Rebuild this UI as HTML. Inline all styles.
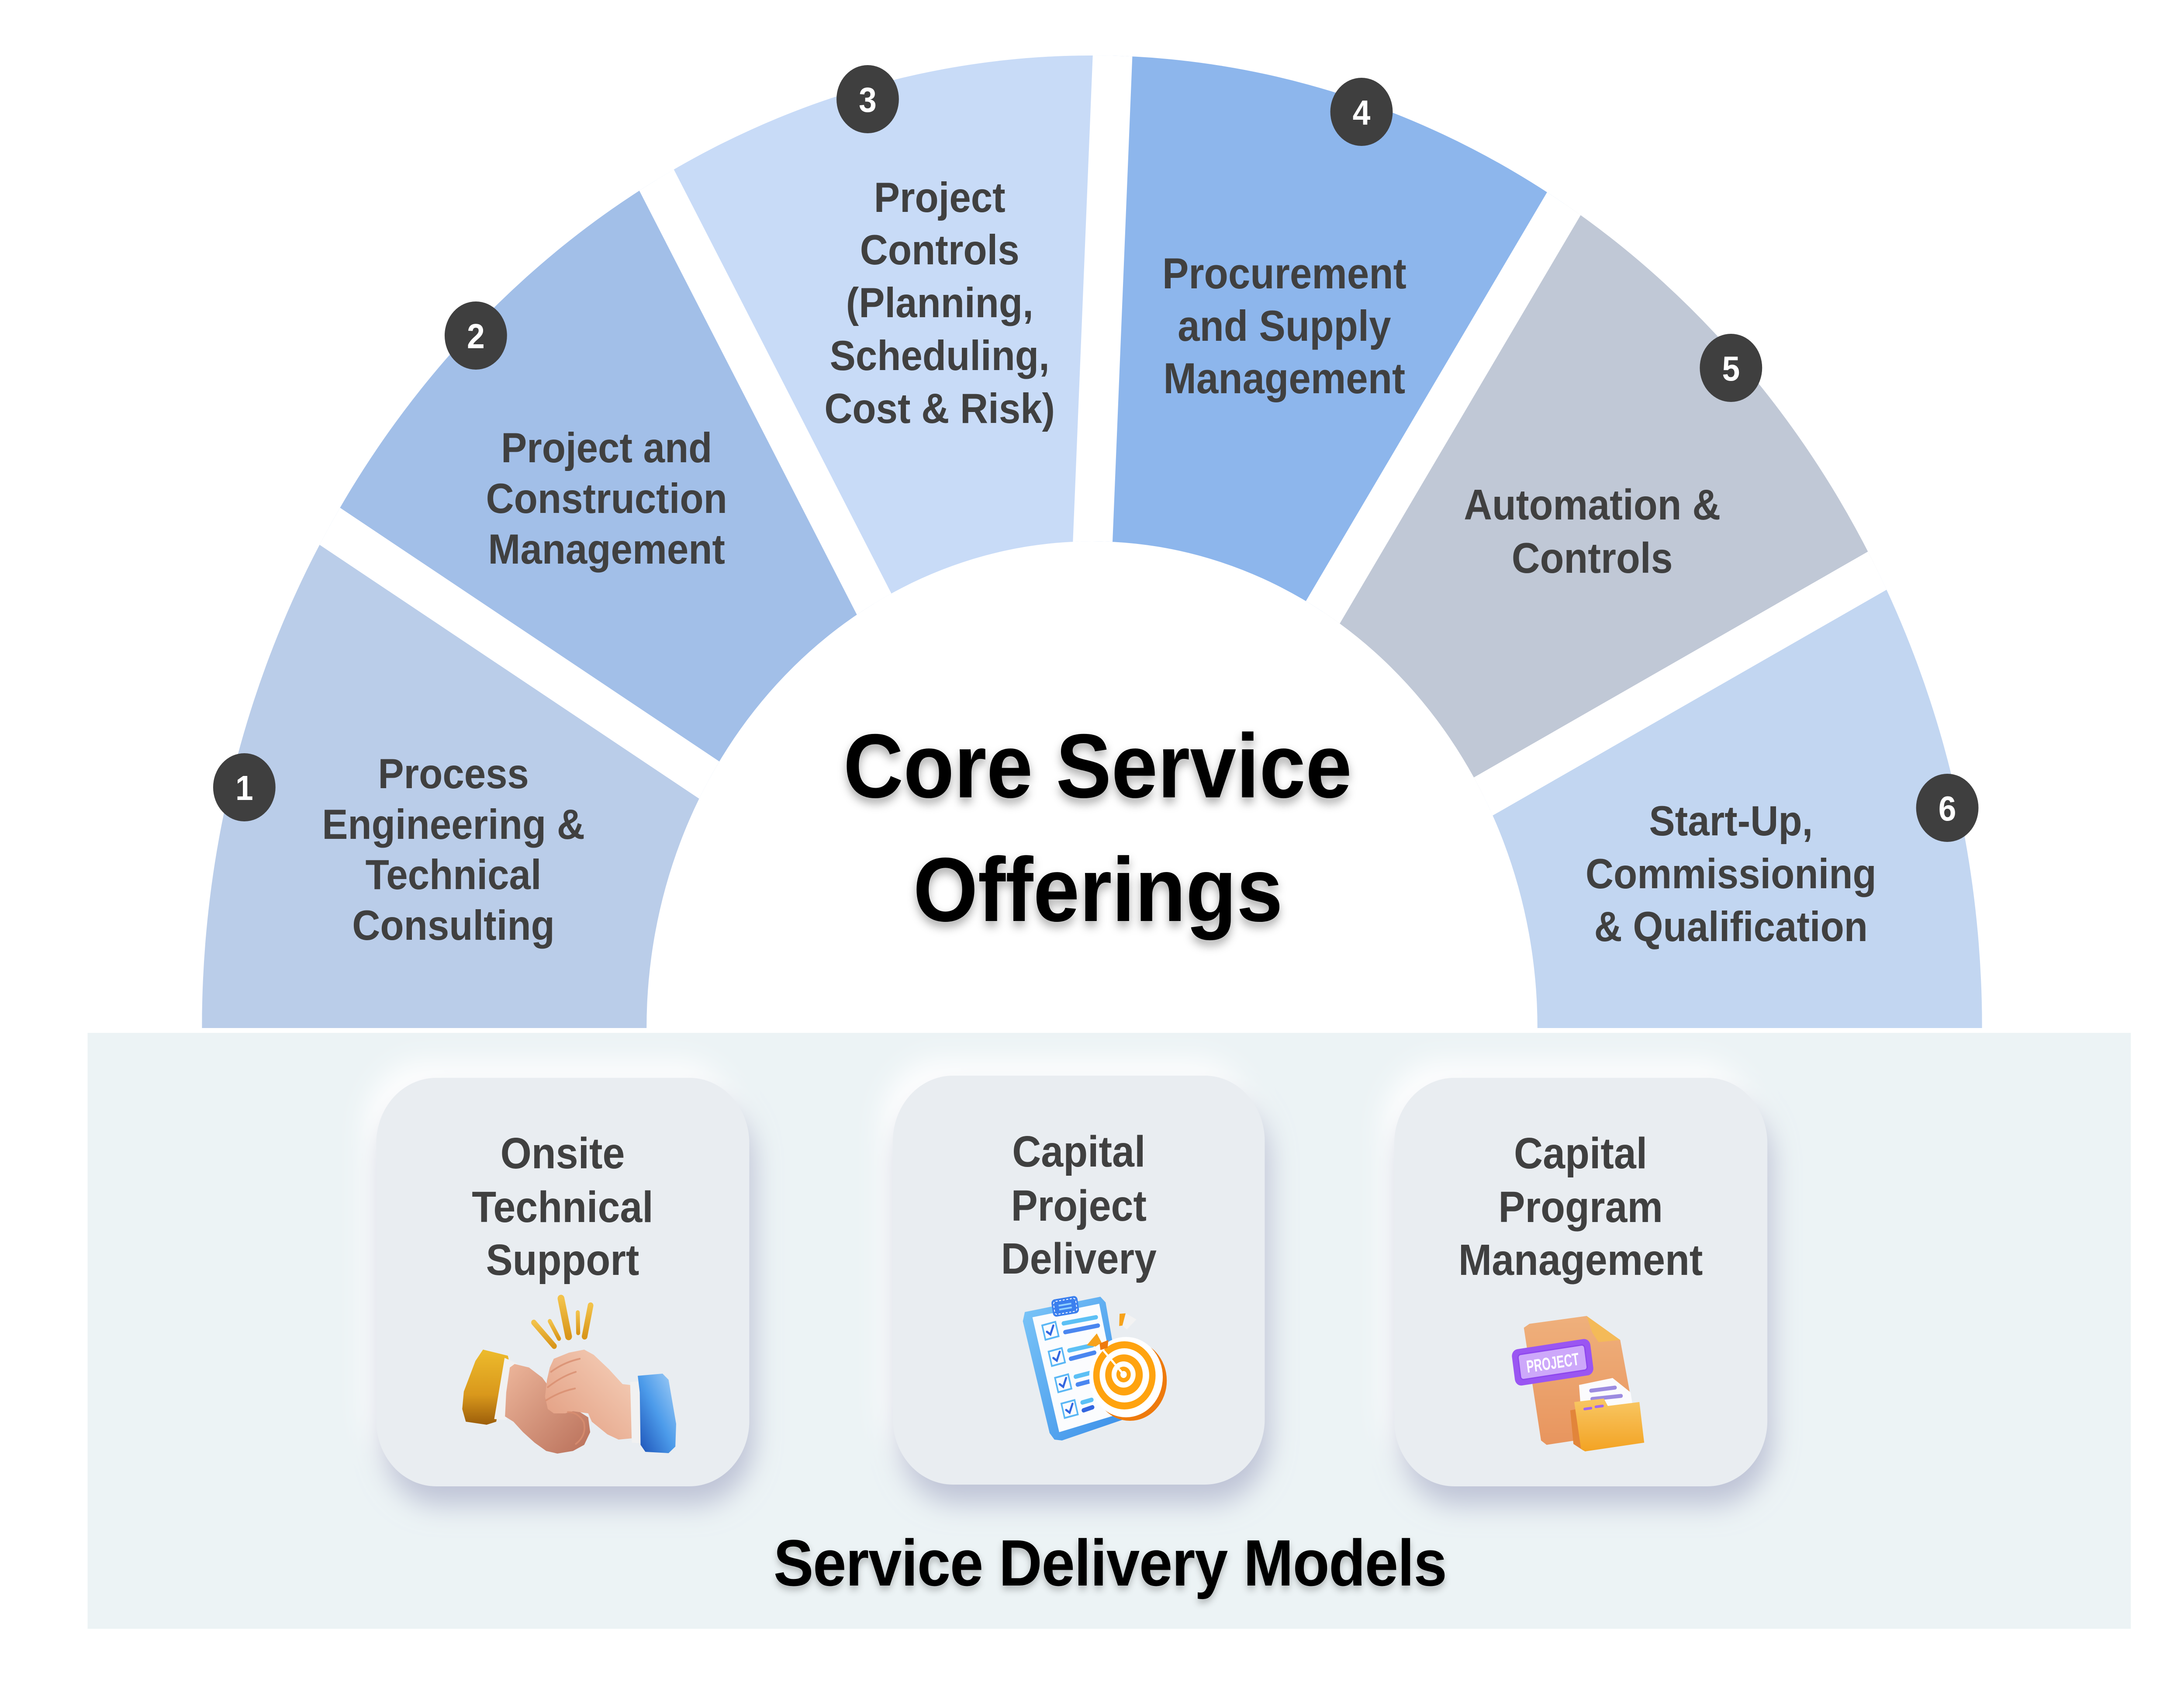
<!DOCTYPE html>
<html>
<head>
<meta charset="utf-8">
<style>
html,body{margin:0;padding:0;background:#fff;overflow:hidden;width:100%;height:100%;}
svg{display:block;width:100vw;height:100vh;}
text{font-family:"Liberation Sans",Arial,sans-serif;font-weight:bold;}
</style>
</head>
<body>
<svg xmlns="http://www.w3.org/2000/svg" viewBox="0 0 5462 3875" preserveAspectRatio="none">
<defs>
  <clipPath id="ring">
    <path d="M505,2353 A2226,2226 0 0 1 4957,2353 L3845,2353 A1114,1114 0 0 0 1617,2353 Z"/>
  </clipPath>
  <filter id="tshadow" x="-10%" y="-30%" width="120%" height="170%">
    <feGaussianBlur in="SourceAlpha" stdDeviation="11" result="b"/>
    <feOffset in="b" dx="0" dy="12" result="o"/>
    <feFlood flood-color="#000" flood-opacity="0.33"/>
    <feComposite in2="o" operator="in" result="s"/>
    <feMerge><feMergeNode in="s"/><feMergeNode in="SourceGraphic"/></feMerge>
  </filter>
  <filter id="tshadow2" x="-10%" y="-30%" width="120%" height="170%">
    <feGaussianBlur in="SourceAlpha" stdDeviation="8" result="b"/>
    <feOffset in="b" dx="0" dy="9" result="o"/>
    <feFlood flood-color="#000" flood-opacity="0.25"/>
    <feComposite in2="o" operator="in" result="s"/>
    <feMerge><feMergeNode in="s"/><feMergeNode in="SourceGraphic"/></feMerge>
  </filter>
  <filter id="neu" x="-25%" y="-25%" width="150%" height="150%">
    <feGaussianBlur in="SourceAlpha" stdDeviation="32" result="b"/>
    <feOffset in="b" dx="12" dy="42" result="o1"/>
    <feFlood flood-color="#b8bdd2" flood-opacity="0.9"/>
    <feComposite in2="o1" operator="in" result="s1"/>
    <feOffset in="b" dx="-28" dy="-34" result="o2"/>
    <feFlood flood-color="#ffffff" flood-opacity="1"/>
    <feComposite in2="o2" operator="in" result="s2"/>
    <feMerge><feMergeNode in="s2"/><feMergeNode in="s1"/><feMergeNode in="SourceGraphic"/></feMerge>
  </filter>
  <linearGradient id="lcuff" x1="0" y1="0" x2="0" y2="1">
    <stop offset="0" stop-color="#EDBB2C"/><stop offset="0.6" stop-color="#D9981C"/><stop offset="1" stop-color="#9C5E0A"/>
  </linearGradient>
  <linearGradient id="lhand" x1="0" y1="0" x2="1" y2="1">
    <stop offset="0" stop-color="#EDB69B"/><stop offset="1" stop-color="#B9705A"/>
  </linearGradient>
  <linearGradient id="rhand" x1="1" y1="0" x2="0" y2="1">
    <stop offset="0" stop-color="#F6D2BC"/><stop offset="1" stop-color="#E19A7D"/>
  </linearGradient>
  <linearGradient id="rcuff" x1="1" y1="0" x2="0" y2="1">
    <stop offset="0" stop-color="#A6D0F7"/><stop offset="0.5" stop-color="#4C9BEA"/><stop offset="1" stop-color="#1B4FB5"/>
  </linearGradient>
  <linearGradient id="spark" x1="0" y1="0" x2="0" y2="1">
    <stop offset="0" stop-color="#F2C24A"/><stop offset="1" stop-color="#D9961A"/>
  </linearGradient>
  <linearGradient id="board" x1="0" y1="0" x2="1" y2="1">
    <stop offset="0" stop-color="#7CC6F8"/><stop offset="1" stop-color="#3A8EE8"/>
  </linearGradient>
  <linearGradient id="doc" x1="0" y1="0" x2="0" y2="1">
    <stop offset="0" stop-color="#EFB07C"/><stop offset="1" stop-color="#E8955E"/>
  </linearGradient>
  <linearGradient id="fold" x1="0" y1="0" x2="0" y2="1">
    <stop offset="0" stop-color="#F8C765"/><stop offset="1" stop-color="#F3A323"/>
  </linearGradient>
</defs>

<rect x="0" y="0" width="5462" height="3875" fill="#ffffff"/>

<!-- Half ring segments -->
<g clip-path="url(#ring)">
  <polygon fill="#BACDE9" points="150,1021 525,1021 2018,1935 1900,2420 150,2420"/>
  <polygon fill="#A2BFE8" points="525,1021 1471,107 2327,1634 2018,1935"/>
  <polygon fill="#C8DBF7" points="1471,107 2798,-222 2720,1527 2327,1634"/>
  <polygon fill="#8DB6EC" points="2798,-222 4100,173 3152,1644 2720,1527"/>
  <polygon fill="#C0C8D6" points="4100,173 5004,1144 3454,1957 3152,1644"/>
  <polygon fill="#C2D6F1" points="5004,1144 5350,1144 5350,2420 3560,2420 3454,1957"/>
  <g stroke="#ffffff" stroke-width="99">
    <line x1="525" y1="1021" x2="2018" y2="1935"/>
    <line x1="1471" y1="107" x2="2327" y2="1634"/>
    <line x1="2798" y1="-222" x2="2720" y2="1527"/>
    <line x1="4100" y1="173" x2="3152" y2="1644"/>
    <line x1="5004" y1="1144" x2="3454" y2="1957"/>
  </g>
</g>

<!-- Segment labels -->
<g fill="#404040" font-size="97" text-anchor="middle">
  <text x="1134" y="1804">Process</text>
  <text x="1134" y="1920">Engineering &amp;</text>
  <text x="1134" y="2035">Technical</text>
  <text x="1134" y="2151">Consulting</text>

  <text x="1517" y="1058">Project and</text>
  <text x="1517" y="1174">Construction</text>
  <text x="1517" y="1290">Management</text>

  <text x="2350" y="485">Project</text>
  <text x="2350" y="605">Controls</text>
  <text x="2350" y="726">(Planning,</text>
  <text x="2350" y="847">Scheduling,</text>
  <text x="2350" y="968">Cost &amp; Risk)</text>

  <text x="3212" y="660" font-size="99">Procurement</text>
  <text x="3212" y="780" font-size="99">and Supply</text>
  <text x="3212" y="900" font-size="99">Management</text>

  <text x="3982" y="1189" font-size="98">Automation &amp;</text>
  <text x="3982" y="1311" font-size="98">Controls</text>

  <text x="4329" y="1912">Start-Up,</text>
  <text x="4329" y="2033">Commissioning</text>
  <text x="4329" y="2154">&amp; Qualification</text>
</g>

<!-- Badges -->
<g fill="#3F3F3F">
  <circle cx="611" cy="1802" r="78"/>
  <circle cx="1190" cy="768" r="78"/>
  <circle cx="2170" cy="227" r="78"/>
  <circle cx="3405" cy="256" r="78"/>
  <circle cx="4329" cy="842" r="78"/>
  <circle cx="4870" cy="1849" r="78"/>
</g>
<g fill="#ffffff" font-size="80" text-anchor="middle">
  <text x="611" y="1831">1</text>
  <text x="1190" y="797">2</text>
  <text x="2170" y="256">3</text>
  <text x="3405" y="285">4</text>
  <text x="4329" y="871">5</text>
  <text x="4870" y="1878">6</text>
</g>

<!-- Center title -->
<g fill="#000000" font-size="208" text-anchor="middle" filter="url(#tshadow)">
  <text x="2745" y="1825">Core Service</text>
  <text x="2746" y="2108">Offerings</text>
</g>

<!-- Bottom panel -->
<rect x="219" y="2364" width="5110" height="1364" fill="#ECF3F5"/>

<!-- Cards -->
<g filter="url(#neu)" fill="#E9EDF1">
  <rect x="941" y="2467" width="933" height="935" rx="150" ry="150"/>
  <rect x="2233" y="2462" width="930" height="936" rx="150" ry="150"/>
  <rect x="3487" y="2467" width="933" height="935" rx="150" ry="150"/>
</g>

<g fill="#404040" font-size="100" text-anchor="middle">
  <text x="1407" y="2674">Onsite</text>
  <text x="1407" y="2797">Technical</text>
  <text x="1407" y="2918">Support</text>

  <text x="2698" y="2670">Capital</text>
  <text x="2698" y="2794">Project</text>
  <text x="2698" y="2915">Delivery</text>

  <text x="3953" y="2674">Capital</text>
  <text x="3953" y="2797">Program</text>
  <text x="3953" y="2918">Management</text>
</g>

<!-- Icon 1: fist bump -->
<g>
  <g stroke="url(#spark)" stroke-linecap="round">
    <line x1="1335" y1="3027" x2="1386" y2="3081" stroke-width="13"/>
    <line x1="1375" y1="3024" x2="1398" y2="3064" stroke-width="10"/>
    <line x1="1403" y1="2972" x2="1422" y2="3059" stroke-width="17"/>
    <line x1="1445" y1="3004" x2="1446" y2="3051" stroke-width="10"/>
    <line x1="1477" y1="2988" x2="1462" y2="3059" stroke-width="14"/>
  </g>
  <polygon fill="url(#lcuff)" points="1208,3089 1270,3103 1272,3110 1241,3254 1217,3261 1165,3254 1156,3225 1160,3185 1189,3115"/>
  <polygon fill="#F1F1F1" points="1262,3108 1292,3120 1267,3250 1236,3248"/>
  <polygon fill="url(#lhand)" points="1287,3122 1323,3130 1356,3153 1368,3168 1366,3206 1385,3235 1418,3230 1447,3230 1471,3244 1476,3278 1461,3307 1433,3321 1394,3327 1366,3321 1337,3302 1308,3278 1284,3254 1263,3242 1266,3187 1275,3130"/>
  <polygon fill="url(#rhand)" points="1385,3110 1423,3096 1461,3089 1485,3101 1523,3134 1557,3168 1576,3170 1581,3292 1547,3295 1519,3283 1480,3254 1471,3235 1433,3230 1413,3235 1385,3235 1370,3225 1363,3197 1368,3158 1375,3130"/>
  <g fill="none" stroke="#D98E70" stroke-width="4" stroke-linecap="round" opacity="0.8">
    <path d="M1378,3140 Q1410,3118 1450,3110"/>
    <path d="M1370,3175 Q1405,3150 1440,3140"/>
    <path d="M1366,3205 Q1400,3185 1438,3178"/>
    <path d="M1420,3232 Q1445,3232 1460,3255 Q1468,3285 1440,3305"/>
  </g>
  <polygon fill="#F1F1F1" points="1576,3163 1610,3161 1612,3304 1580,3302"/>
  <polygon fill="url(#rcuff)" points="1595,3149 1657,3144 1672,3158 1691,3259 1689,3311 1672,3326 1614,3323 1602,3307 1600,3187"/>
</g>

<!-- Icon 2: clipboard with target -->
<g>
  <polygon fill="url(#board)" points="2563,3003 2752,2968 2765,2981 2816,3247 2656,3297 2637,3295 2625,3280 2558,3024"/>
  <polygon fill="#FBFCFE" points="2582,3015 2749,2984 2804,3235 2649,3278"/>
  <g transform="translate(2664,2990) rotate(-9)">
    <rect x="-33" y="-20" width="66" height="40" rx="9" fill="#3B7FEE"/>
    <rect x="-28" y="-15" width="56" height="30" rx="6" fill="none" stroke="#ffffff" stroke-width="2" stroke-dasharray="5 4"/>
    <line x1="-16" y1="-4" x2="16" y2="-4" stroke="#8FD0FF" stroke-width="4"/>
    <line x1="-16" y1="5" x2="16" y2="5" stroke="#8FD0FF" stroke-width="4"/>
  </g>
  <g fill="none" stroke-linecap="round">
    <g transform="translate(2627,3046) rotate(-14)">
      <rect x="-17" y="-17" width="34" height="34" stroke="#5AB7F5" stroke-width="4"/>
      <path d="M-9,0 L-2,8 L10,-10" stroke="#3366E0" stroke-width="5"/>
    </g>
    <g transform="translate(2643,3106) rotate(-14)">
      <rect x="-17" y="-17" width="34" height="34" stroke="#5AB7F5" stroke-width="4"/>
      <path d="M-9,0 L-2,8 L10,-10" stroke="#3366E0" stroke-width="5"/>
    </g>
    <g transform="translate(2659,3166) rotate(-14)">
      <rect x="-17" y="-17" width="34" height="34" stroke="#5AB7F5" stroke-width="4"/>
      <path d="M-9,0 L-2,8 L10,-10" stroke="#3366E0" stroke-width="5"/>
    </g>
    <g transform="translate(2675,3225) rotate(-14)">
      <rect x="-17" y="-17" width="34" height="34" stroke="#5AB7F5" stroke-width="4"/>
      <path d="M-9,0 L-2,8 L10,-10" stroke="#3366E0" stroke-width="5"/>
    </g>
    <g stroke-width="10">
      <line x1="2660" y1="3029" x2="2741" y2="3015" stroke="#5CC0F5"/>
      <line x1="2664" y1="3049" x2="2746" y2="3034" stroke="#4A86F0"/>
      <line x1="2674" y1="3091" x2="2732" y2="3079" stroke="#5CC0F5"/>
      <line x1="2678" y1="3110" x2="2737" y2="3096" stroke="#4A86F0"/>
      <line x1="2690" y1="3151" x2="2728" y2="3142" stroke="#5CC0F5"/>
      <line x1="2695" y1="3169" x2="2728" y2="3161" stroke="#4A86F0"/>
      <line x1="2707" y1="3210" x2="2730" y2="3204" stroke="#5CC0F5"/>
      <line x1="2710" y1="3228" x2="2732" y2="3221" stroke="#3366E0"/>
    </g>
  </g>
  <ellipse cx="2826" cy="3160" rx="92" ry="92" fill="#EE7A0C"/>
  <ellipse cx="2816" cy="3152" rx="92" ry="92" fill="#ffffff"/>
  <circle cx="2812" cy="3148" r="78" fill="#FFA30F"/>
  <circle cx="2812" cy="3148" r="62" fill="#ffffff"/>
  <circle cx="2811" cy="3147" r="47" fill="#FFA30F"/>
  <circle cx="2810" cy="3146" r="30" fill="#ffffff"/>
  <circle cx="2810" cy="3146" r="18" fill="#FFA30F"/>
  <circle cx="2810" cy="3146" r="8" fill="#ffffff"/>
  <line x1="2745" y1="3075" x2="2810" y2="3146" stroke="#ffffff" stroke-width="5" stroke-linecap="round"/>
  <polygon fill="#F7A21A" points="2743,3052 2755,3073 2740,3082 2718,3079"/>
  <polygon fill="#EE7A0C" points="2750,3075 2772,3067 2770,3085 2752,3090"/>
  <polygon fill="#F7A21A" points="2800,3007 2815,3006 2807,3034 2799,3035"/>
  <polygon fill="#F3F3F3" points="2816,3006 2842,3020 2818,3043 2808,3035"/>
</g>

<!-- Icon 3: project folder -->
<g>
  <polygon fill="url(#doc)" points="3811,3039 3825,3030 3968,3012 4052,3067 4078,3197 4060,3290 3954,3295 3868,3307 3854,3297"/>
  <polygon fill="#F4BA58" points="3968,3012 4052,3067 3998,3072 3982,3050"/>
  <g transform="translate(3883,3118) rotate(-8)">
    <rect x="-99" y="-42" width="198" height="84" rx="16" fill="#9A56F2"/>
    <rect x="-84" y="-29" width="168" height="58" rx="7" fill="#CDA8FA" stroke="#8E47EE" stroke-width="3"/>
    <text x="0" y="15" font-size="40" text-anchor="middle" fill="#ffffff" textLength="132" lengthAdjust="spacingAndGlyphs">PROJECT</text>
  </g>
  <polygon fill="#E2853A" points="3927,3228 4060,3205 4090,3215 4105,3300 3960,3320 3935,3305"/>
  <polygon fill="#FBFBFD" points="3949,3170 4033,3154 4078,3187 4083,3216 3954,3230"/>
  <line x1="3979" y1="3183" x2="4039" y2="3176" stroke="#9C8BE0" stroke-width="9" stroke-linecap="round"/>
  <line x1="3982" y1="3202" x2="4054" y2="3195" stroke="#9C8BE0" stroke-width="9" stroke-linecap="round"/>
  <polygon fill="url(#fold)" points="3937,3209 4011,3201 4021,3218 4100,3209 4112,3302 3964,3322 3954,3316"/>
  <line x1="3963" y1="3225" x2="3979" y2="3223" stroke="#A067F0" stroke-width="6" stroke-linecap="round"/>
  <line x1="3991" y1="3220" x2="4008" y2="3218" stroke="#A067F0" stroke-width="6" stroke-linecap="round"/>
</g>

<!-- Bottom title -->
<text x="2776" y="3629" fill="#000000" font-size="150" text-anchor="middle" letter-spacing="-1.5" filter="url(#tshadow2)">Service Delivery Models</text>

</svg>
</body>
</html>
